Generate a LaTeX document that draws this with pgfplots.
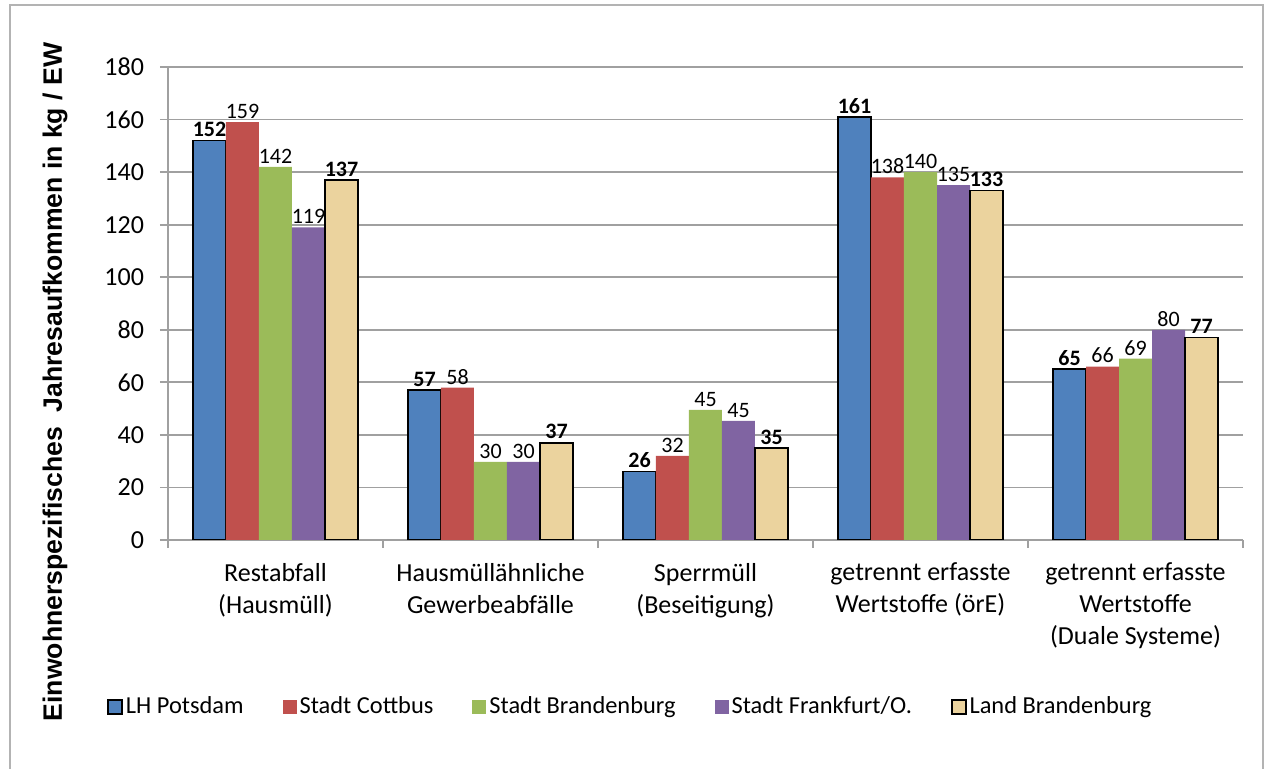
\documentclass[border=0pt]{standalone}
\usepackage{pgfplots}
\pgfplotsset{compat=1.18}
\usepackage{fontspec}
\setmainfont{Carlito}
\newfontfamily\arialf{Liberation Sans}
\definecolor{cBlue}{HTML}{4F81BD}
\definecolor{cRed}{HTML}{C0504D}
\definecolor{cGreen}{HTML}{9BBB59}
\definecolor{cPurple}{HTML}{8064A2}
\definecolor{cTan}{HTML}{EBD39E}
\definecolor{gridgray}{HTML}{A0A0A0}
\pgfplotsset{
  sqlegend/.style={legend image code/.code={\path[##1] (0pt,-3.5pt) rectangle (7pt,3.5pt);}},
}
\begin{document}
\begin{tikzpicture}
\path[use as bounding box] (-84pt,-114.5pt) rectangle (549pt,270pt);
\draw[color=gridgray!80, line width=0.9pt] (-79pt,-116pt) -- (-79pt,267.5pt) -- (547.5pt,267.5pt) -- (547.5pt,-116pt);
\begin{axis}[
  at={(0,0)}, anchor=south west,
  scale only axis, width=537.5pt, height=236.5pt,
  ybar=0pt, bar width=16.5pt,
  xmin=-0.5, xmax=4.5, ymin=0, ymax=180,
  ytick={0,20,...,180},
  xtick={-0.5,0.5,1.5,2.5,3.5,4.5}, xticklabels={},
  extra x ticks={0,1,2,3,4},
  extra x tick labels={{Restabfall\\(Hausmüll)},{Hausmüllähnliche\\Gewerbeabfälle},{Sperrmüll\\(Beseitigung)},{getrennt erfasste\\Wertstoffe (örE)},{getrennt erfasste\\Wertstoffe\\(Duale Systeme)}},
  extra x tick style={major tick length=0pt, xticklabel style={align=center, yshift=-8pt}},
  axis x line*=bottom, axis y line*=left,
  axis line style={draw=gridgray, line width=0.9pt},
  tick align=outside, major tick length=4pt,
  tick style={draw=gridgray, line width=0.9pt},
  ymajorgrids, grid style={draw=gridgray, line width=0.9pt},
  /pgf/number format/assume math mode=true,
  ticklabel style={font=\fontsize{13}{16}\selectfont},
  yticklabel style={xshift=-4.5pt},
  ylabel={Einwohnerspezifisches\ \ Jahresaufkommen in kg / EW},
  every axis y label/.style={at={(axis description cs:-0.105,0.334)}, rotate=90, anchor=center,
     font=\arialf\bfseries\fontsize{13.3}{16}\selectfont},
  nodes near coords, point meta=explicit symbolic,
  every node near coord/.append style={font=\fontsize{11}{13}\selectfont, inner sep=1.5pt, black},
  legend style={at={(0.4307,-0.353)}, anchor=center, draw=none, font=\fontsize{12.2}{14}\selectfont,
    nodes={inner sep=1.5pt},
    legend columns=-1, /tikz/every even column/.append style={column sep=18pt}},
]
\addplot[sqlegend, fill=cBlue, draw=black, line width=0.75pt,
  every node near coord/.append style={font=\bfseries\fontsize{11}{13}\selectfont}]
  coordinates {(0,152)[152] (1,57)[57] (2,26)[26] (3,161)[161] (4,65)[65]};
\addplot[sqlegend, fill=cRed, draw=none]
  coordinates {(0,159)[159] (1,58)[58] (2,32)[32] (3,138)[138] (4,66)[66]};
\addplot[sqlegend, fill=cGreen, draw=none]
  coordinates {(0,142)[142] (1,29.7)[30] (2,49.5)[45] (3,140)[140] (4,69)[69]};
\addplot[sqlegend, fill=cPurple, draw=none]
  coordinates {(0,119)[119] (1,29.7)[30] (2,45.3)[45] (3,135)[135] (4,80)[80]};
\addplot[sqlegend, fill=cTan, draw=black, line width=0.75pt,
  every node near coord/.append style={font=\bfseries\fontsize{11}{13}\selectfont}]
  coordinates {(0,137)[137] (1,37)[37] (2,35)[35] (3,133)[133] (4,77)[77]};
\legend{LH Potsdam, Stadt Cottbus, Stadt Brandenburg, Stadt Frankfurt/O., Land Brandenburg}
\end{axis}
\end{tikzpicture}
\end{document}
